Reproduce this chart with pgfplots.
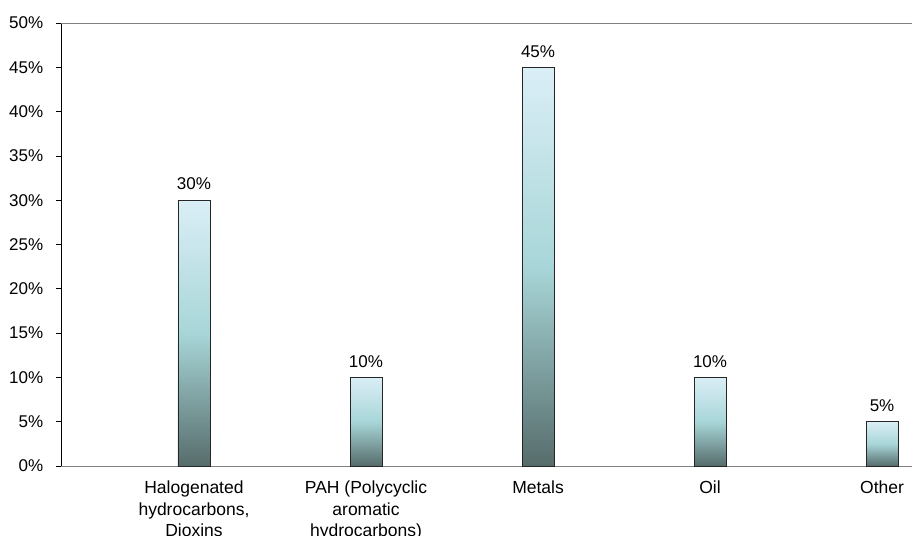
\documentclass[border=0pt]{standalone}
\usepackage{pgfplots}
\pgfplotsset{compat=1.18}
\usepackage{fontspec}
\setmainfont{Liberation Sans}
\definecolor{bartop}{HTML}{DAEEF6}
\definecolor{barmid}{HTML}{A8D6D8}
\definecolor{barbot}{HTML}{566C6B}
\definecolor{axgray}{HTML}{808080}
\begin{document}
\fontsize{17bp}{21.5bp}\selectfont
\begin{tikzpicture}
\begin{axis}[
  scale only axis, width=851bp, height=443bp,
  xmin=-0.773, xmax=4.174, ymin=0, ymax=50,
  axis x line=bottom, axis y line=left,
  x axis line style={draw=axgray, line width=0.8bp, -},
  y axis line style={draw=black, line width=0.8bp, -},
  ybar, bar width=32bp, bar shift=0pt,
  xtick={0,1,2,3,4},
  xticklabels={{Halogenated\\hydrocarbons,\\Dioxins},{PAH (Polycyclic\\aromatic\\hydrocarbons)},Metals,Oil,Other},
  x tick label style={align=center, font=\fontsize{17.5bp}{21.5bp}\selectfont, anchor=north, yshift=-4bp},
  major x tick style={draw=none},
  ytick={0,5,...,50},
  yticklabel={\pgfmathprintnumber{\tick}\%},
  y tick label style={font=\fontsize{17bp}{21.5bp}\selectfont, xshift=-7bp},
  /pgf/number format/assume math mode=true,
  tick align=outside, major tick length=5bp,
  major y tick style={black, line width=0.8bp},
  nodes near coords={\pgfmathprintnumber{\pgfplotspointmeta}\%},
  every node near coord/.append style={font=\fontsize{17bp}{21.5bp}\selectfont, yshift=4bp, black},
  mybar/.style={draw=black!85, line width=0.8bp, top color=bartop, bottom color=barbot, middle color=barmid},
  clip=false,
]
\addplot[mybar] coordinates {(0,30)};
\addplot[mybar] coordinates {(1,10)};
\addplot[mybar] coordinates {(2,45)};
\addplot[mybar] coordinates {(3,10)};
\addplot[mybar] coordinates {(4,5)};
\draw[axgray, line width=0.8bp] (rel axis cs:0,1) -- (rel axis cs:1,1);
\end{axis}
\path (current axis.south west) ++(-61bp,-70bp) coordinate (bl);
\path (current axis.north east) ++(0,23bp) coordinate (tr);
\pgfresetboundingbox
\useasboundingbox (bl) rectangle (tr);
\end{tikzpicture}
\end{document}
